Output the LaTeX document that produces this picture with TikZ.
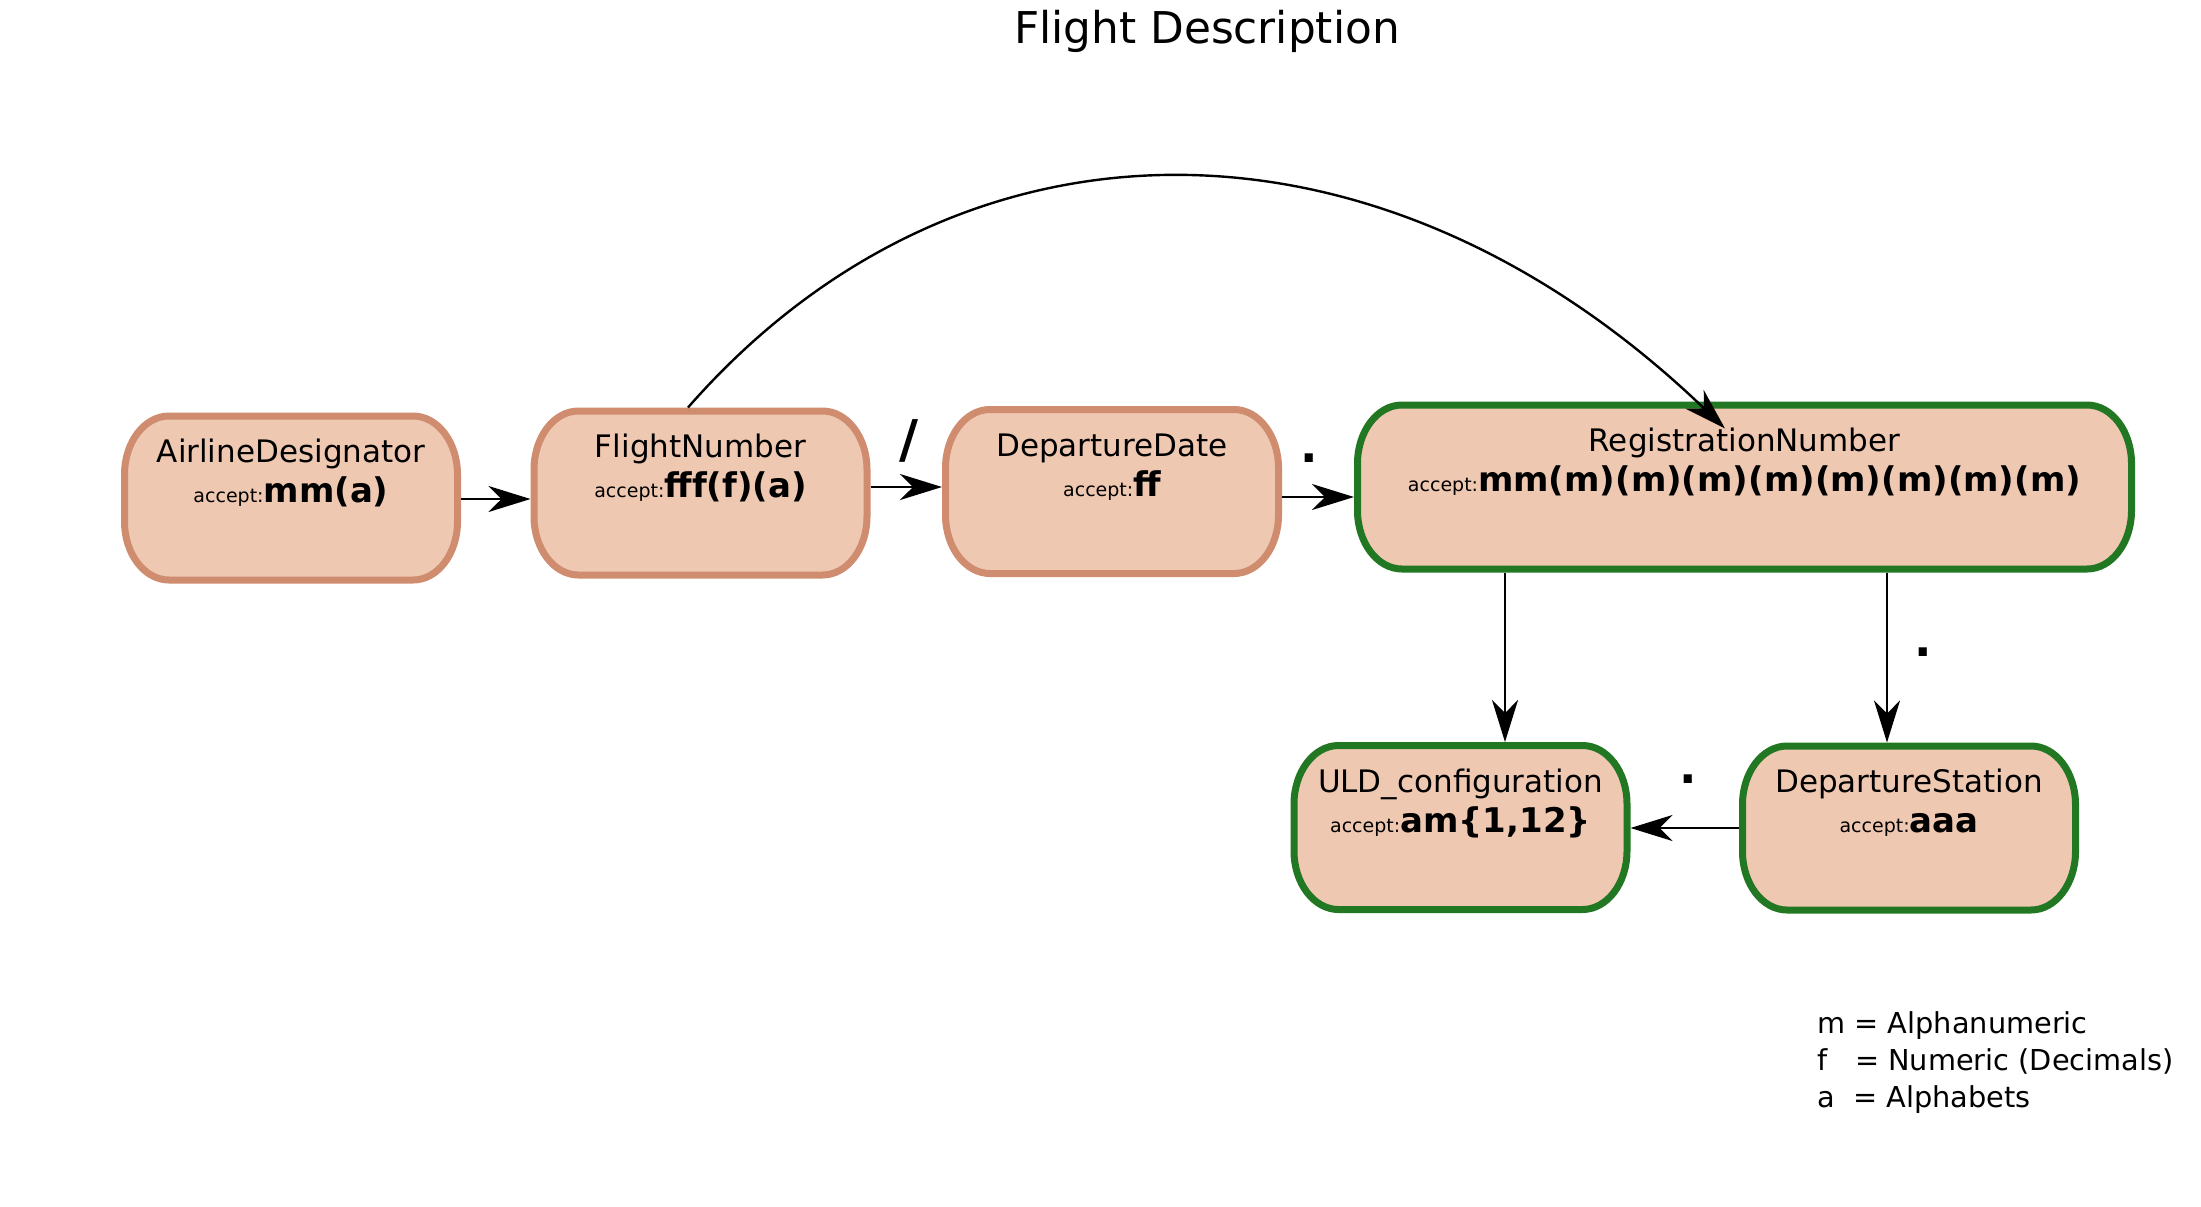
\documentclass[tikz,border=0pt]{standalone}
\usepackage{fontspec}
\setmainfont{DejaVu Sans}
\usetikzlibrary{calc,arrows.meta}
\definecolor{boxfill}{HTML}{EFC8B2}
\definecolor{salmonline}{HTML}{D08C6E}
\definecolor{greenline}{HTML}{227722}
\newcommand{\acceptline}[1]{{\fontsize{9.5pt}{11pt}\selectfont accept:}{\fontsize{17pt}{20pt}\selectfont\bfseries #1}}
\newcommand{\drawbox}[2]{%
  \draw[line width=3.5pt, draw=#2, fill=boxfill]
    ($(#1.north west)+(24pt,-1.75pt)$) -- ($(#1.north east)+(-24pt,-1.75pt)$)
    arc[start angle=90,end angle=0,x radius=22.25pt,y radius=29.25pt]
    -- ($(#1.south east)+(-1.75pt,31pt)$)
    arc[start angle=0,end angle=-90,x radius=22.25pt,y radius=29.25pt]
    -- ($(#1.south west)+(24pt,1.75pt)$)
    arc[start angle=-90,end angle=-180,x radius=22.25pt,y radius=29.25pt]
    -- ($(#1.north west)+(1.75pt,-31pt)$)
    arc[start angle=180,end angle=90,x radius=22.25pt,y radius=29.25pt]
    -- cycle;}
\tikzset{
  holder/.style={rectangle, draw=none, inner sep=0pt, outer sep=0pt, minimum width=170pt, minimum height=85.5pt},
  nametext/.style={anchor=base, inner sep=0pt, font=\fontsize{15.5pt}{18pt}\selectfont},
  accepttext/.style={anchor=base, inner sep=0pt},
  edge/.style={line width=1.2pt, -{Stealth[length=21pt,width=13pt,inset=6.5pt]}},
  elabel/.style={inner sep=0pt, font=\fontsize{23pt}{27pt}\selectfont\bfseries},
  legendtext/.style={anchor=base west, inner sep=0pt, font=\fontsize{14.4pt}{18pt}\selectfont}
}
\begin{document}
\begin{tikzpicture}[x=0.5pt,y=-0.5pt]
\useasboundingbox[fill=white] (0,0) rectangle (2201,1206);

\node[nametext, font=\fontsize{21.9pt}{26pt}\selectfont] (title) at (1207,43) {Flight Description};

% holders
\node[holder] (ad) at (291,498) {};
\node[holder] (fn) at (700.5,493) {};
\node[holder] (dd) at (1112,491.5) {};
\node[holder, minimum width=390.5pt] (rn) at (1744.5,487) {};
\node[holder] (ul) at (1460.5,827.5) {};
\node[holder] (ds) at (1909,828) {};

\drawbox{ad}{salmonline}
\drawbox{fn}{salmonline}
\drawbox{dd}{salmonline}
\drawbox{rn}{greenline}
\drawbox{ul}{greenline}
\drawbox{ds}{greenline}

\node[nametext] (adn) at ($(ad.north)+(0,50)$) {AirlineDesignator};
\node[accepttext] (ada) at ($(ad.north)+(0,90)$) {\acceptline{mm(a)}};
\node[nametext] (fnn) at ($(fn.north)+(0,50)$) {FlightNumber};
\node[accepttext] (fna) at ($(fn.north)+(0,90)$) {\acceptline{fff(f)(a)}};
\node[nametext] (ddn) at ($(dd.north)+(0,50)$) {DepartureDate};
\node[accepttext] (dda) at ($(dd.north)+(0,90)$) {\acceptline{ff}};
\node[nametext] (rnn) at ($(rn.north)+(0,50)$) {RegistrationNumber};
\node[accepttext] (rna) at ($(rn.north)+(0,90)$) {\acceptline{mm(m)(m)(m)(m)(m)(m)(m)(m)}};
\node[nametext] (uln) at ($(ul.north)+(0,50)$) {ULD\_configuration};
\node[accepttext] (ula) at ($(ul.north)+(0,90)$) {\acceptline{am\{1,12\}}};
\node[nametext] (dsn) at ($(ds.north)+(0,50)$) {DepartureStation};
\node[accepttext] (dsa) at ($(ds.north)+(0,90)$) {\acceptline{aaa}};

% edges
\draw[edge] ($(ad.east)+(0,1)$) -- ($(ad.east -| fn.west)+(0,1)$);
\draw[edge] ($(fn.east)+(0,-6)$) -- ($(fn.east -| dd.west)+(0,-6)$);
\draw[edge] ($(dd.east)+(0,5.5)$) -- ($(dd.east -| rn.west)+(0,5.5)$);
\draw[edge] ($(fn.north)+(-12.5,0)$) .. controls (960,97) and (1380,97) .. ($(rn.north)+(-19.5,27)$);
\draw[edge] ($(rn.south west)+(151,0)$) -- ($(ul.north)+(44.5,0)$);
\draw[edge] ($(rn.south west)+(533,0)$) -- ($(ds.north)+(-22,0)$);
\draw[edge] (ds.west) -- (ds.west -| ul.east);

% edge labels
\node[elabel, font=\fontsize{26pt}{30pt}\selectfont\bfseries] (lslash) at (909,441) {/};
\node[elabel] (ldot1) at (1309,458) {.};
\node[elabel] (ldot2) at (1923,652) {.};
\node[elabel] (ldot3) at (1688,779) {.};

% legend
\node[legendtext] (legm) at (1817,1033) {m = Alphanumeric};
\node[legendtext] (legf) at (1817,1070) {f\ \ \ = Numeric (Decimals)};
\node[legendtext] (lega) at (1817,1107) {a\ \ = Alphabets};
\end{tikzpicture}
\end{document}
